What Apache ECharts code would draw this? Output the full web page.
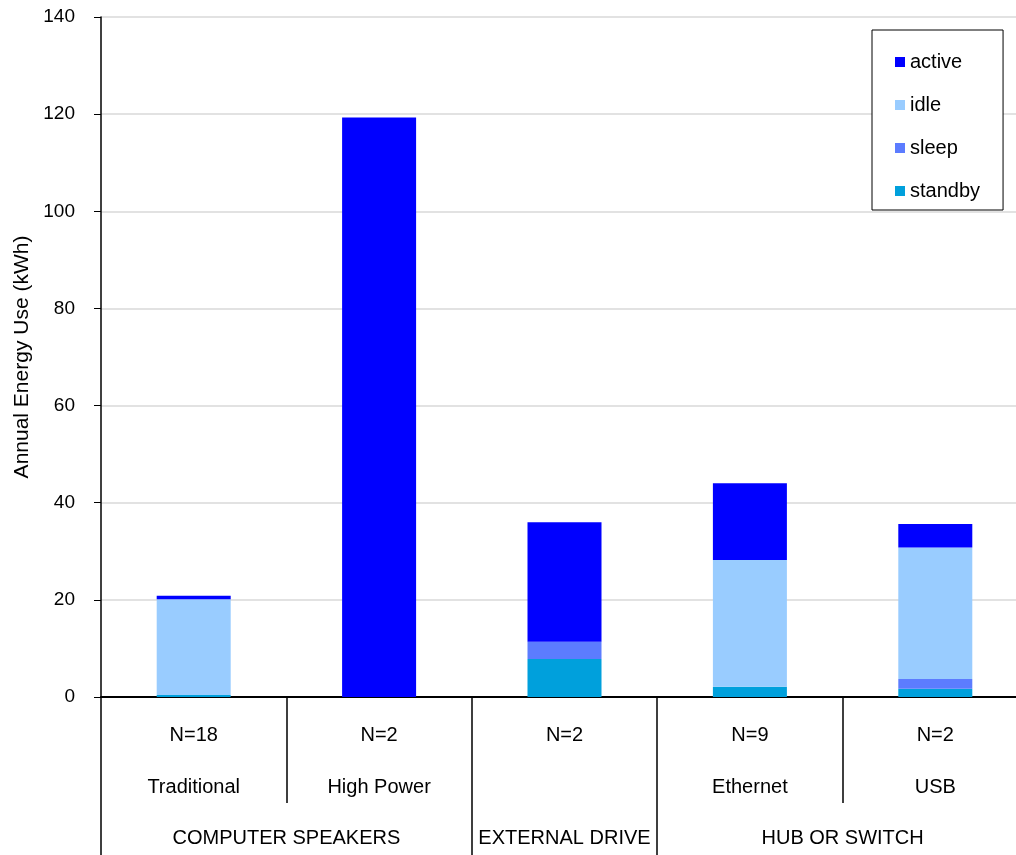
<!DOCTYPE html>
<html>
<head>
<meta charset="utf-8">
<script src="https://cdn.jsdelivr.net/npm/echarts@6/dist/echarts.min.js"></script>
<style>
  html, body { margin: 0; padding: 0; background: #fff; }
  #chart { width: 1016px; height: 855px; }
</style>
</head>
<body>
<div id="chart"></div>
<script>
// data
var categories = ['Traditional', 'High Power', '', 'Ethernet', 'USB'];
var counts = ['N=18', 'N=2', 'N=2', 'N=9', 'N=2'];
var groupNames = ['COMPUTER SPEAKERS', 'EXTERNAL DRIVE', 'HUB OR SWITCH'];
var groupSpans = [2, 1, 2];

var standby = [0.4, 0, 7.8, 2.1, 1.7];
var sleep = [0, 0, 3.6, 0, 2.0];
var idle = [19.7, 0, 0, 26.1, 27.1];
var active = [0.75, 119.3, 24.6, 15.8, 4.8];

var font = 'Liberation Sans, Arial, sans-serif';

// second axis: half-slot points, labels at group centres, ticks at group edges
var halfSlots = [];
var edges = {0: true};
var pos = 0;
for (var i = 0; i <= categories.length * 2; i++) halfSlots.push('');
groupSpans.forEach(function (span, g) {
    halfSlots[pos + span] = groupNames[g];
    pos += span * 2;
    edges[pos] = true;
});

var myChart = echarts.init(document.getElementById('chart'));

function bar(name, data, color) {
    return {
        name: name,
        type: 'bar',
        stack: 'energy',
        barWidth: 74,
        data: data,
        itemStyle: { color: color },
        emphasis: { disabled: true }
    };
}

var option = {
    backgroundColor: '#fff',
    animation: false,
    textStyle: { fontFamily: font },
    grid: { left: 101, right: -12, top: 17, bottom: 158, outerBoundsMode: 'none' },
    legend: {
        orient: 'vertical',
        left: 872,
        top: 30,
        padding: [22, 23, 9, 23],
        itemGap: 23,
        itemWidth: 10,
        itemHeight: 10,
        icon: 'rect',
        borderColor: '#000',
        borderWidth: 1,
        backgroundColor: '#fff',
        textStyle: { fontSize: 20, color: '#000', fontFamily: font },
        data: ['active', 'idle', 'sleep', 'standby']
    },
    xAxis: [
        {
            type: 'category',
            data: categories.map(function (c, i) { return counts[i] + '\n' + c; }),
            axisLine: { lineStyle: { color: '#000', width: 2 } },
            axisTick: { show: true, length: 106, lineStyle: { color: '#000', width: 1.5 } },
            axisLabel: {
                interval: 0,
                margin: 12,
                lineHeight: 52,
                fontSize: 20,
                color: '#000',
                fontFamily: font
            }
        },
        {
            type: 'category',
            position: 'bottom',
            offset: 106,
            boundaryGap: false,
            data: halfSlots,
            axisLine: { show: false },
            axisTick: {
                show: true,
                length: 52,
                interval: function (idx) { return !!edges[idx]; },
                lineStyle: { color: '#000', width: 1.5 }
            },
            axisLabel: {
                interval: 0,
                margin: 25,
                fontSize: 20,
                color: '#000',
                fontFamily: font
            }
        }
    ],
    yAxis: {
        type: 'value',
        min: 0,
        max: 140,
        interval: 20,
        name: 'Annual Energy Use (kWh)',
        nameLocation: 'middle',
        nameGap: 68,
        nameTextStyle: { fontSize: 21, color: '#000', fontFamily: font },
        axisLine: { show: true, lineStyle: { color: '#000', width: 1.5 } },
        axisTick: { show: true, length: 7, lineStyle: { color: '#000' } },
        axisLabel: { fontSize: 19, color: '#000', margin: 26, fontFamily: font },
        splitLine: { lineStyle: { color: '#d9d9d9', width: 1.5 } }
    },
    series: [
        bar('standby', standby, '#00a0dc'),
        bar('sleep', sleep, '#5c7cff'),
        bar('idle', idle, '#99ccff'),
        bar('active', active, '#0000ff')
    ]
};

myChart.setOption(option);
</script>
</body>
</html>
